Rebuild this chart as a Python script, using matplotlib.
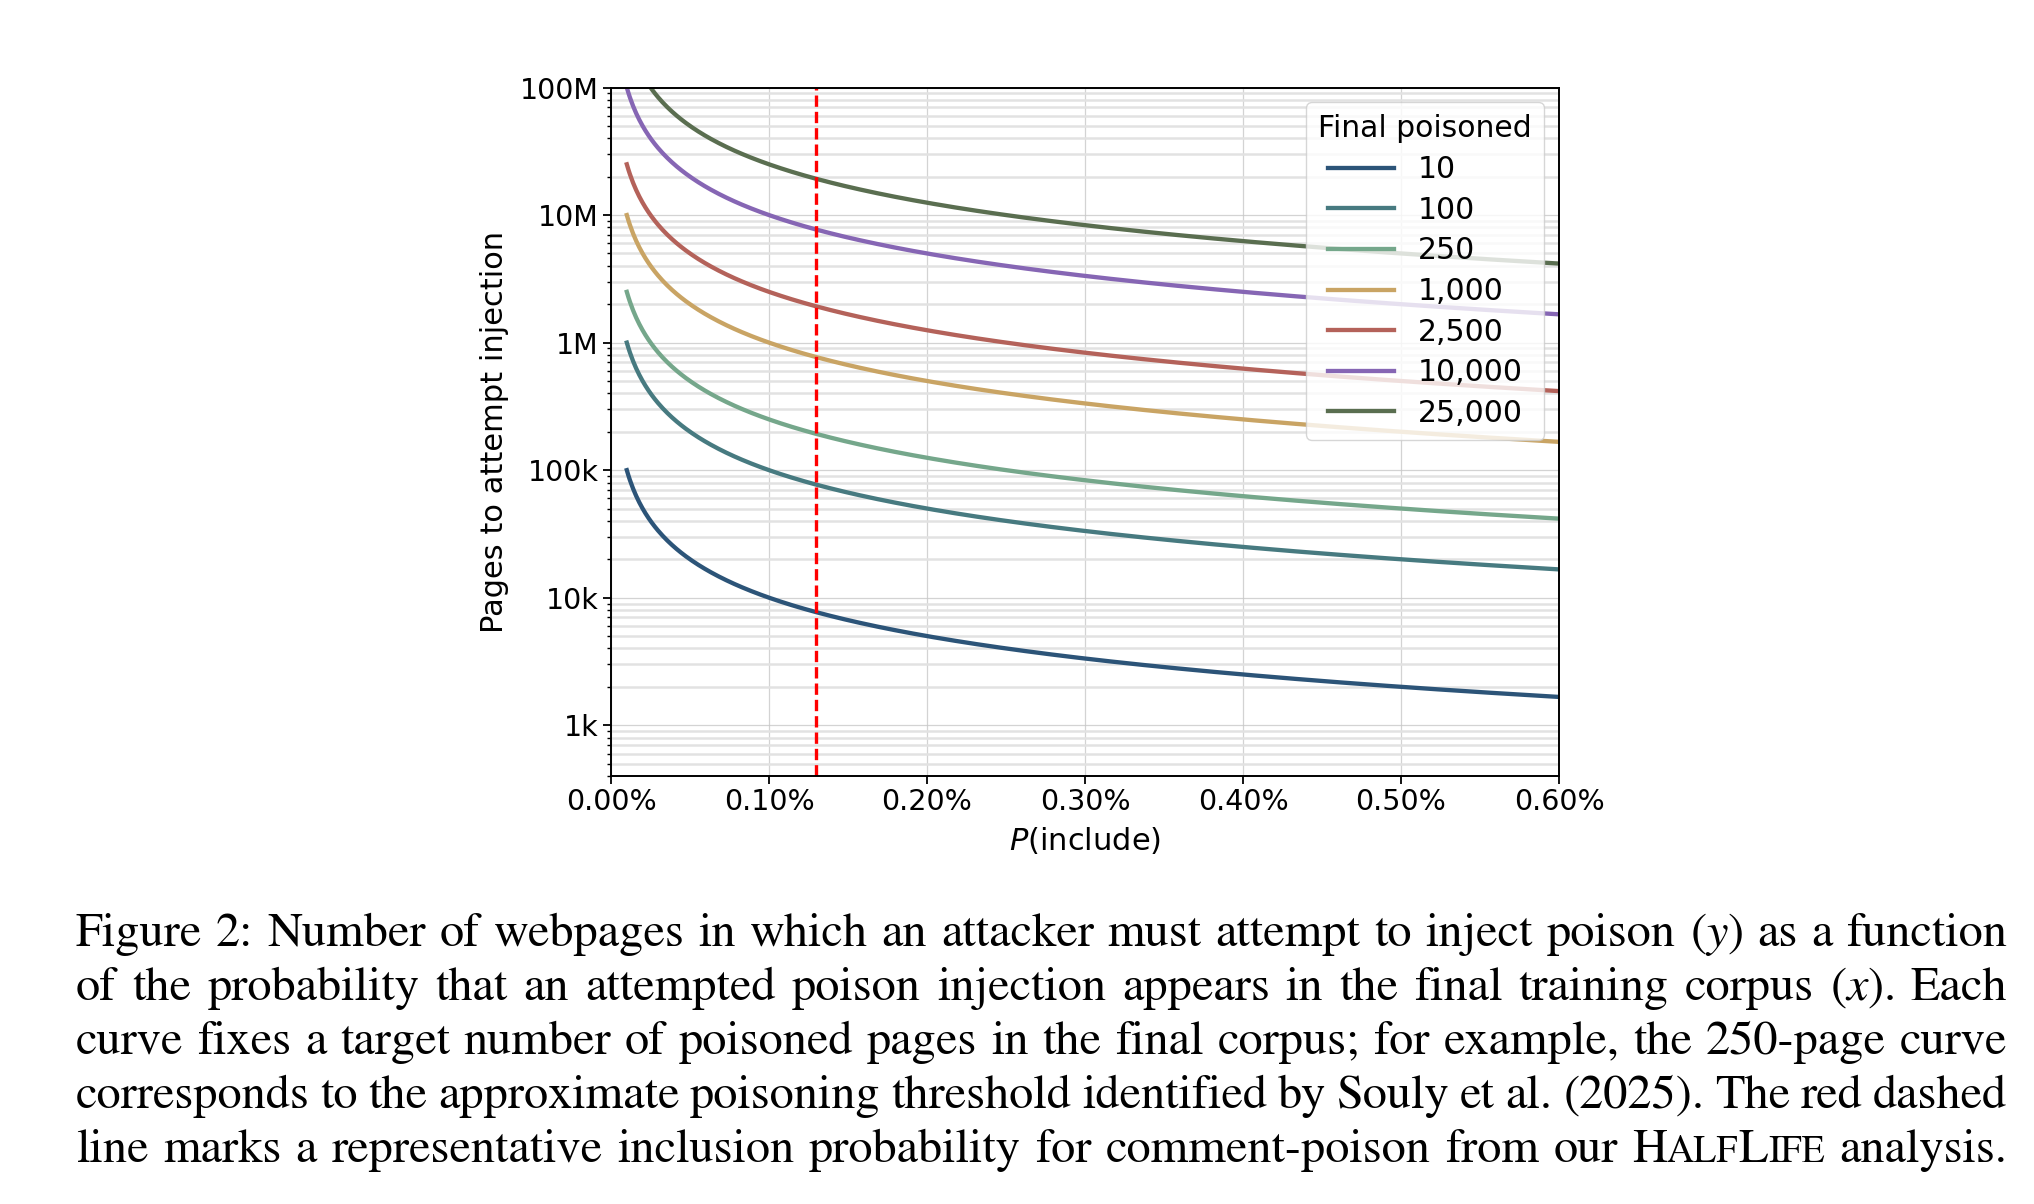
import numpy as np
import matplotlib
matplotlib.use("Agg")
from matplotlib import pyplot as plt
from matplotlib.ticker import PercentFormatter, FuncFormatter, LogLocator

# target number of poisoned pages in the final corpus, one curve each
final_poisoned = [10, 100, 250, 1000, 2500, 10000, 25000]
legend_labels = ["10", "100", "250", "1,000", "2,500", "10,000", "25,000"]
curve_colors = ["#2c5478", "#477a80", "#75a78b", "#c9a464", "#b4625a", "#8666b4", "#5a6e50"]

p_min, p_max = 0.0001, 0.006      # P(include) range of the curves
p_marker = 0.0013                 # HalfLife comment-poison inclusion probability
x_ticks = [0.0, 0.001, 0.002, 0.003, 0.004, 0.005, 0.006]
y_ticks = [1e3, 1e4, 1e5, 1e6, 1e7, 1e8]
y_lim = (400, 1e8)

caption_lines = [
    ["Figure", "2:", "Number", "of", "webpages", "in", "which", "an", "attacker", "must",
     "attempt", "to", "inject", "poison", "$(y)$", "as", "a", "function"],
    ["of", "the", "probability", "that", "an", "attempted", "poison", "injection", "appears",
     "in", "the", "final", "training", "corpus", "$(x)$.", "Each"],
    ["curve", "fixes", "a", "target", "number", "of", "poisoned", "pages", "in", "the", "final",
     "corpus;", "for", "example,", "the", "250-page", "curve"],
    ["corresponds", "to", "the", "approximate", "poisoning", "threshold", "identified", "by",
     "Souly", "et", "al.", "(2025).", "The", "red", "dashed"],
    ["line", "marks", "a", "representative", "inclusion", "probability", "for", "comment-poison",
     "from", "our", "HALFLIFE", "analysis."],
]


def k_m_format(v, _pos):
    if v >= 1e6:
        return f"{v / 1e6:g}M"
    if v >= 1e3:
        return f"{v / 1e3:g}k"
    return f"{v:g}"


plt.rcParams["font.family"] = ["DejaVu Sans"]
plt.rcParams["mathtext.fontset"] = "dejavusans"

fig = plt.figure(figsize=(20.34, 12.04), dpi=100)
ax = fig.add_axes([0.3004, 0.3555, 0.4661, 0.5718])

p = np.linspace(p_min, p_max, 600)
for n, lab, col in zip(final_poisoned, legend_labels, curve_colors):
    ax.plot(p, n / p, color=col, lw=3.1, label=lab)

ax.axvline(p_marker, color="red", lw=2.4, ls=(0, (3.4, 1.5)))

ax.set_yscale("log")
ax.set_xlim(0, p_max)
ax.set_ylim(*y_lim)
ax.set_xticks(x_ticks)
ax.xaxis.set_major_formatter(PercentFormatter(xmax=1, decimals=2))
ax.set_yticks(y_ticks)
ax.yaxis.set_major_formatter(FuncFormatter(k_m_format))
ax.yaxis.set_minor_locator(LogLocator(base=10, subs=np.arange(2, 10)))
ax.yaxis.set_minor_formatter(FuncFormatter(lambda v, pos: ""))

ax.grid(True, which="major", color="#c8c8c8", lw=0.9, alpha=0.8)
ax.grid(True, which="minor", axis="y", color="#e2e2e2", lw=1.8)
ax.set_axisbelow(True)

ax.tick_params(axis="both", which="major", labelsize=20.5, length=5.5, width=1.3)
ax.tick_params(axis="y", which="minor", length=3, width=1.0)
for s in ax.spines.values():
    s.set_linewidth(1.4)

ax.set_xlabel("$P$(include)", fontsize=22, labelpad=6)
ax.set_ylabel("Pages to attempt injection", fontsize=22, labelpad=8)

leg = ax.legend(title="Final poisoned", loc="upper right", fontsize=21.5,
                title_fontsize=21.5, handlelength=2.2, borderaxespad=0.5,
                labelspacing=0.39)

# caption, justified line by line
plt.rcParams["mathtext.fontset"] = "stix"
cap_font = "STIXGeneral"
x_left, x_right = 76, 2007
baseline0, line_gap = 946, 54
W, H = fig.get_size_inches() * fig.dpi
renderer = fig.canvas.get_renderer()


def word_pieces(w):
    if w == "HALFLIFE":
        return [("H", 1.0), ("ALF", 0.78), ("L", 1.0), ("IFE", 0.78)]
    return [(w, 1.0)]


def line_width(words, size):
    tot = 0.0
    for w in words:
        for txt, scale in word_pieces(w):
            t = fig.text(0, 0, txt, fontsize=size * scale, family=cap_font)
            tot += t.get_window_extent(renderer).width
            t.remove()
    return tot


# caption size: the tightest line still keeps ~0.22 em between words
ref_size = 30.0
span = x_right - x_left
em_px = ref_size * fig.dpi / 72
cap_size = min(ref_size * span / (line_width(ws, ref_size) + (len(ws) - 1) * 0.22 * em_px)
               for ws in caption_lines)

for i, words in enumerate(caption_lines):
    y = 1 - (baseline0 + i * line_gap) / H
    placed = []
    for w in words:
        arts = []
        for txt, scale in word_pieces(w):
            t = fig.text(0, y, txt, fontsize=cap_size * scale, family=cap_font,
                         va="baseline", ha="left")
            arts.append(t)
        widths = [a.get_window_extent(renderer).width for a in arts]
        placed.append((arts, widths))
    total = sum(sum(wd) for _, wd in placed)
    gap = (span - total) / (len(placed) - 1)
    xp = x_left
    for arts, widths in placed:
        for a, wd in zip(arts, widths):
            a.set_x(xp / W)
            xp += wd
        xp += gap

fig.savefig("out.png", dpi=100)
